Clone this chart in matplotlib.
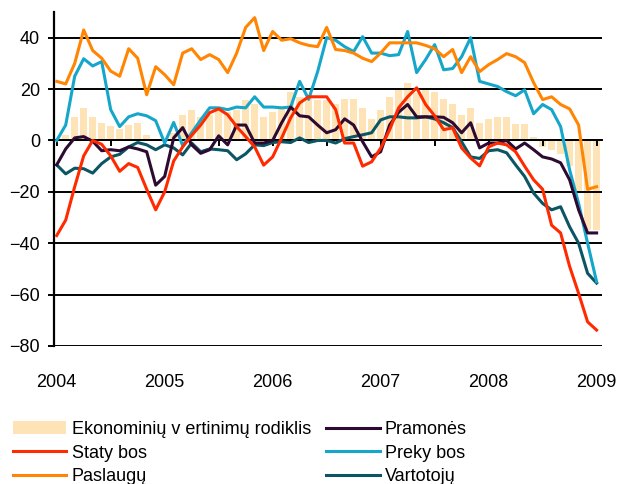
import matplotlib
matplotlib.use("Agg")
import matplotlib.pyplot as plt
from matplotlib.patches import Patch
from matplotlib.lines import Line2D
import numpy as np

plt.rcParams['font.family'] = ['Liberation Sans', 'DejaVu Sans']

# monthly values, Jan 2004 .. Jan 2009
years = ['2004', '2005', '2006', '2007', '2008', '2009']

rodiklis = [0.5, 2.2, 9.2, 12.7, 9.2, 6.9, 5.7, 4.6, 6, 6.9, 2.2, 0,
            0.5, 3, 10, 12, 9, 10, 12.7, 11, 12, 15.8, 14, 9.2,
            11, 12.3, 19, 17, 16.6, 15.8, 15.8, 14, 16, 16, 12.7, 8.4,
            12, 17, 19.5, 22.5, 18.5, 19.8, 19, 16, 14, 10, 12.7, 6.9,
            8.4, 9.2, 9.2, 6.5, 6.5, 1.5, -2.5, -3.6, -5.2, -10, -20, -35, -35]

pramones = [-9.5, -3.3, 1, 1.5, -0.3, -4, -3.6, -4, -2.5, -3.3, -4.4, -17.4,
            -14, 1, 5, -1.7, -5, -3.6, 1.8, -1.7, 6, 6, -1, -1,
            0, 6.9, 13, 9.6, 9.2, 6, 3, 4.2, 8.4, 6, -0.5, -6.4,
            -4.4, 6, 11, 14, 9.2, 9.2, 9.2, 9, 6.9, 3, 6.9, -2.9,
            -1, -1, 0, -3.3, -1, -3.6, -6.4, -7.2, -8.7, -15.3, -27, -36, -36]

statybos = [-37, -31, -18, -6, 0, -1.5, -6, -12, -9, -10.5, -19, -27,
            -20, -8, -2.5, 2, 6, 10.8, 12.3, 10, 5.4, 1.5, -2.5, -9.6,
            -6.4, 1, 8.8, 14.6, 17, 17, 17, 12, -1, -1, -10, -8.3,
            -3, 4.2, 12.7, 17, 20.5, 14, 9.6, 4.2, 4.9, -2.9, -6.8, -9.9,
            -2.5, -1, -1.7, -4.4, -10, -15.3, -19, -33, -36, -49, -59.5, -70.6, -73.8]

prekybos = [0, 6, 25, 31.8, 29, 30.7, 12, 5.4, 9.2, 10.4, 9.6, 7.7,
            -1, 7, -2, 3, 8, 12.7, 12.7, 12, 13, 12.7, 17, 13,
            13, 12.7, 13, 23, 16, 26.8, 40, 39, 36.5, 34.6, 40.4, 34,
            34, 33, 33.4, 42.4, 26.4, 31.5, 37.3, 27.5, 28, 32.6, 40, 23,
            22, 21, 19, 17.4, 19.7, 10.4, 14, 12, 5.4, -11.4, -24.5, -40, -55]

paslaugu = [23, 22, 30, 43, 35, 32, 27, 25, 35.7, 32, 17.8, 28.7,
            25.6, 21.7, 34, 35.7, 31.5, 33.4, 31.5, 26.4, 34, 44, 47.8, 35,
            42.4, 39, 39.6, 38, 37, 36.5, 44, 35.4, 35, 34, 32, 30.7,
            34, 38, 38, 38, 38, 37, 35.7, 32.6, 35.4, 26.4, 32.6, 26.8,
            29.5, 31.5, 33.8, 32.6, 30.3, 22.5, 15.9, 17, 14, 12.3, 6, -19, -18]

vartotoju = [-9.5, -13, -10.8, -11, -12.7, -9, -6.4, -5.4, -2.5, -0.8, -1.7, -3.6,
             -1.7, -2.9, -5.6, -1, -4.4, -3.3, -3.6, -4, -7.5, -5.2, -1.7, -2,
             -0.8, -0.5, -0.8, 1, -0.8, 0, 0, -1, 0.7, 1.5, 2.2, 3,
             8, 9.2, 9.2, 8.8, 8.8, 9.2, 8.4, 6.9, 5, -0.5, -6.4, -7,
             -4, -3.6, -4.8, -9.5, -14, -20.5, -24.5, -27, -25.8, -33.6, -40, -51.7, -55.5]

months = np.arange(len(rodiklis))

c_bar = '#FDE3B5'
c_pram = '#2D0A31'
c_stat = '#FF2A00'
c_prek = '#16A6CA'
c_pasl = '#FF8502'
c_vart = '#0B5564'

fs = 13

fig = plt.figure(figsize=(6.26, 4.84), dpi=100)
ax = fig.add_axes([54/626, 1 - 346/484, 548/626, 334/484])

ax.bar(months, rodiklis, width=0.8, color=c_bar, zorder=1)

lw = 2.2
ax.plot(months, vartotoju, color=c_vart, lw=lw, zorder=3, solid_joinstyle='round')
ax.plot(months, prekybos, color=c_prek, lw=lw, zorder=3, solid_joinstyle='round')
ax.plot(months, pramones, color=c_pram, lw=lw, zorder=3, solid_joinstyle='round')
ax.plot(months, paslaugu, color=c_pasl, lw=lw, zorder=3, solid_joinstyle='round')
ax.plot(months, statybos, color=c_stat, lw=lw, zorder=4, solid_joinstyle='round')

# axes styling
ax.set_xlim(-0.3, 60.6)
ax.set_ylim(-80, 50)
ax.set_yticks(np.arange(-80, 41, 20))
for v in np.arange(-80, 41, 20):
    ax.axhline(v, color='black', lw=1.4, zorder=2)

for s in ['top', 'right']:
    ax.spines[s].set_visible(False)
ax.spines['left'].set_linewidth(1.6)
ax.spines['bottom'].set_position(('data', 0))
ax.spines['bottom'].set_linewidth(1.4)
ax.spines['bottom'].set_zorder(2)

ax.set_xticks(np.arange(0, 61, 6))
ax.set_xticklabels([])
ax.tick_params(axis='x', direction='out', length=4, width=1.4)
ax.tick_params(axis='y', direction='out', length=4, width=1.4, labelsize=fs, pad=6)

for k, yr in enumerate(years):
    ax.text(k * 12, -0.11, yr, transform=ax.get_xaxis_transform(),
            ha='center', va='center', fontsize=fs)

handles = [
    Patch(facecolor=c_bar, edgecolor='none'),
    Line2D([], [], color=c_stat, lw=lw),
    Line2D([], [], color=c_pasl, lw=lw),
    Line2D([], [], color=c_pram, lw=lw),
    Line2D([], [], color=c_prek, lw=lw),
    Line2D([], [], color=c_vart, lw=lw),
]
labels = ['Ekonominių v ertinimų rodiklis', 'Staty bos', 'Paslaugų',
          'Pramonės', 'Preky bos', 'Vartotojų']
fig.legend(handles, labels, ncol=2, loc='upper left',
           bbox_to_anchor=(13/626, 1 - 421/484), frameon=False,
           fontsize=fs, borderpad=0, borderaxespad=0,
           handlelength=2.95, handletextpad=0.3, columnspacing=0.85,
           labelspacing=0.37, handleheight=0.7)

fig.savefig('out.png', dpi=100)
